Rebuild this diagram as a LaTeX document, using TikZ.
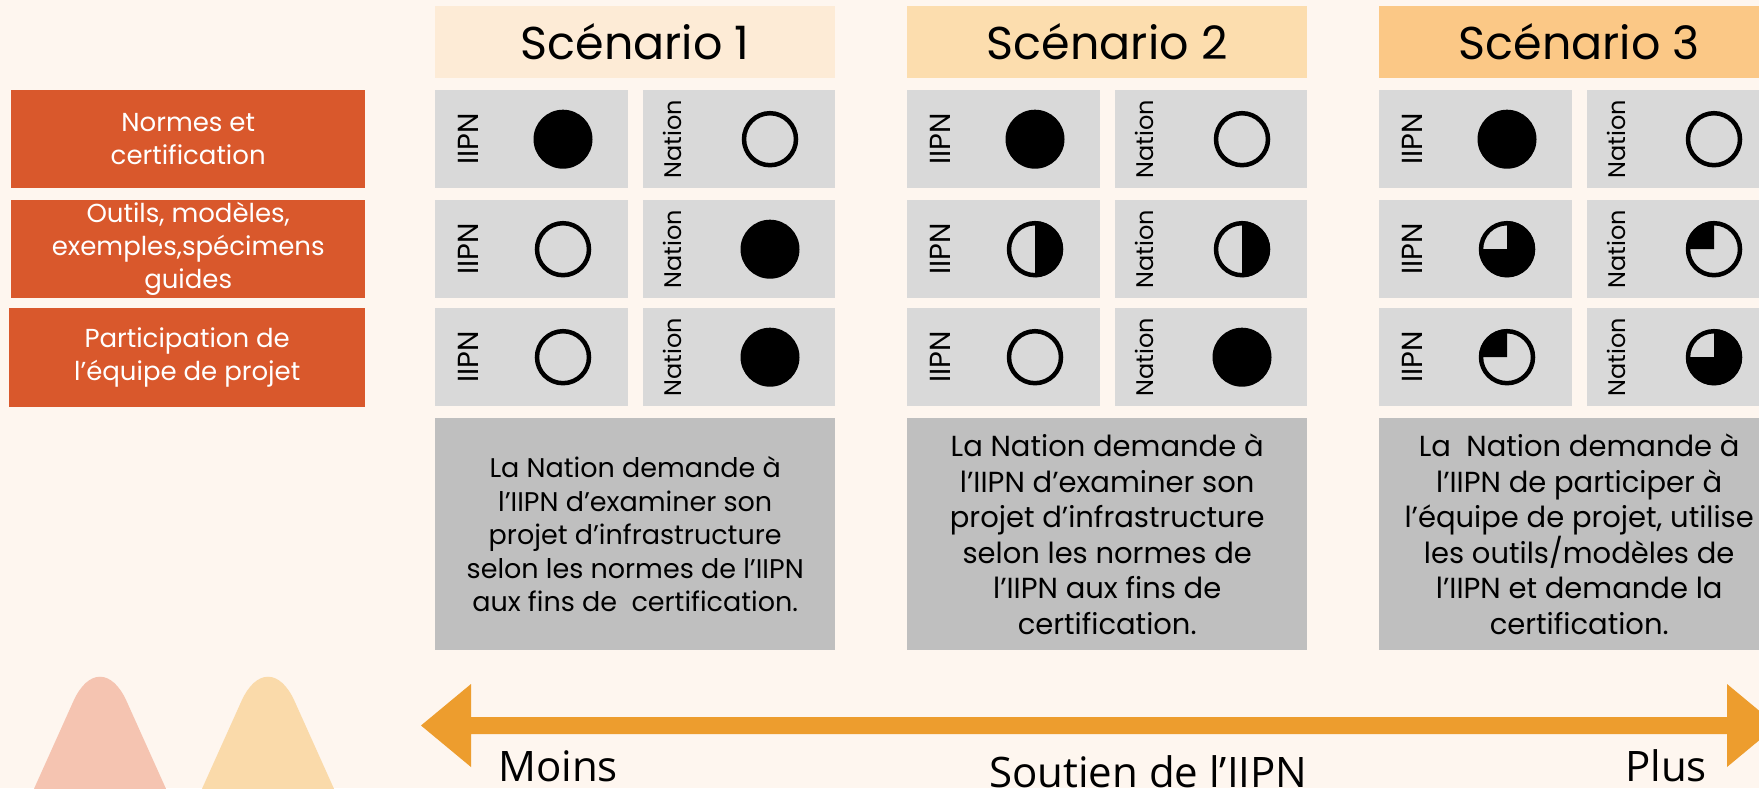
\documentclass[tikz,border=0pt]{standalone}
\usepackage{fontspec}
\setmainfont{Poppins}
\newfontfamily\axisfont{Open Sans}
\usetikzlibrary{calc}

\definecolor{paper}{HTML}{FEF6EF}
\definecolor{rust}{HTML}{D9582C}
\definecolor{sceneA}{HTML}{FDEBD6}
\definecolor{sceneB}{HTML}{FCDDAE}
\definecolor{sceneC}{HTML}{FBC886}
\definecolor{cellgray}{HTML}{D9D9D9}
\definecolor{requestgray}{HTML}{BFBFBF}
\definecolor{axisorange}{HTML}{ED9D2E}
\definecolor{peakpink}{HTML}{F5C4B1}
\definecolor{peakpeach}{HTML}{FADAAA}

\tikzset{
    topic/.style={fill=rust, text=white, anchor=north west, minimum width=354pt, minimum height=98pt, inner sep=0pt, align=center, font=\fontsize{26}{33}\selectfont},
    scenetitle/.style={anchor=north west, minimum width=400pt, minimum height=72pt, inner sep=0pt, font=\fontsize{46}{52}\selectfont},
    cell/.style={fill=cellgray, anchor=north west, minimum height=98pt, inner sep=0pt},
    party/.style={rotate=90, inner sep=0pt},
    request/.style={fill=requestgray, anchor=north west, minimum width=400pt, minimum height=232pt, inner sep=0pt, align=center},
    rim/.style={line width=4.5pt},
    axislabel/.style={anchor=base west, inner sep=0pt, font=\axisfont\fontsize{42}{42}\selectfont},
}

\begin{document}
\begin{tikzpicture}[x=1pt, y=-1pt]
    % scénarios de soutien de l'IIPN
    \def\colA{435}
    \def\colB{907}
    \def\colC{1379}
    \def\rowA{90}
    \def\rowB{200}
    \def\rowC{308}
    % 0 vide, 1 quart, 2 moitié, 3 trois quarts, 4 plein
    \def\harvey#1#2{%
        \ifcase#2
            \draw[rim] #1 circle (26);
        \or
            \fill #1 -- ++(-28,0) arc (180:270:28) -- cycle;
            \draw[rim] #1 circle (26);
        \or
            \fill #1 -- ++(0,-28) arc (-90:90:28) -- cycle;
            \draw[rim] #1 circle (26);
        \or
            \fill #1 -- ++(0,-28) arc (-90:180:28) -- cycle;
            \draw[rim] #1 circle (26);
        \or
            \fill #1 circle (29.5);
        \fi}
    \def\cellpair#1#2#3#4#5{%
        \node[cell, minimum width=193pt] (#1i) at (#2,#3) {};
        \node[cell, minimum width=192pt] (#1n) at (#2+208,#3) {};
        \node[party, font=\fontsize{29}{29}\selectfont] (#1it) at ([xshift=33pt]#1i.west) {IIPN};
        \node[party, font=\fontsize{24}{24}\selectfont] (#1nt) at ([xshift=29pt]#1n.west) {Nation};
        \harvey{([xshift=128pt]#1i.west)}{#4}
        \harvey{([xshift=127pt]#1n.west)}{#5}}

    \path[use as bounding box, clip] (0,0) rectangle (1759,788);
    \fill[paper] (0,0) rectangle (1759,788);

    \fill[peakpink, rounded corners=65pt] (-16,900) -- (100,642) -- (216,900) -- cycle;
    \fill[peakpeach, rounded corners=65pt] (152,900) -- (268,642) -- (384,900) -- cycle;

    \node[topic] (norms) at (11,\rowA) {Normes et\\certification};
    \node[topic] (tools) at (11,\rowB) {Outils, modèles,\\exemples,spécimens\\guides};
    \node[topic, minimum width=356pt, minimum height=99pt] (team) at (9,\rowC) {Participation de\\l’équipe de projet};

    \node[scenetitle, fill=sceneA] (scA) at (\colA,6) {Scénario 1};
    \node[scenetitle, fill=sceneB] (scB) at (\colB,6) {Scénario 2};
    \node[scenetitle, fill=sceneC] (scC) at (\colC,6) {Scénario 3};

    \cellpair{a1}{\colA}{\rowA}{4}{0}
    \cellpair{a2}{\colA}{\rowB}{0}{4}
    \cellpair{a3}{\colA}{\rowC}{0}{4}
    \cellpair{b1}{\colB}{\rowA}{4}{0}
    \cellpair{b2}{\colB}{\rowB}{2}{2}
    \cellpair{b3}{\colB}{\rowC}{0}{4}
    \cellpair{c1}{\colC}{\rowA}{4}{0}
    \cellpair{c2}{\colC}{\rowB}{3}{1}
    \cellpair{c3}{\colC}{\rowC}{1}{3}

    \node[request, font=\fontsize{27}{33.6}\selectfont] (reqA) at (\colA,418)
        {La Nation demande à\\l’IIPN d’examiner son\\projet d’infrastructure\\selon les normes de l’IIPN\\aux fins de\ \ certification.};
    \node[request, font=\fontsize{29}{35.6}\selectfont] (reqB) at (\colB,418)
        {La Nation demande à\\l’IIPN d’examiner son\\projet d’infrastructure\\selon les normes de\\l’IIPN aux fins de\\certification.};
    \node[request, font=\fontsize{29}{35.6}\selectfont] (reqC) at (\colC,418)
        {La\ \ Nation demande à\\l’IIPN de participer à\\l’équipe de projet, utilise\\les outils/modèles de\\l’IIPN et demande la\\certification.};

    \coordinate (less) at (421,725.5);
    \coordinate (more) at (1777,725.5);
    \fill[axisorange] (less) -- ++(50,-41.5) -- ++(0,33) -- ($(more)+(-50,-8.5)$) -- ++(0,-33) -- (more)
        -- ++(-50,41.5) -- ++(0,-33) -- ($(less)+(50,8.5)$) -- ++(0,33) -- cycle;

    \node[axislabel] (lessword) at (498,781) {Moins};
    \node[axislabel] (axisword) at (989,787) {Soutien de l’IIPN};
    \node[axislabel] (moreword) at (1625,781) {Plus};
\end{tikzpicture}
\end{document}
